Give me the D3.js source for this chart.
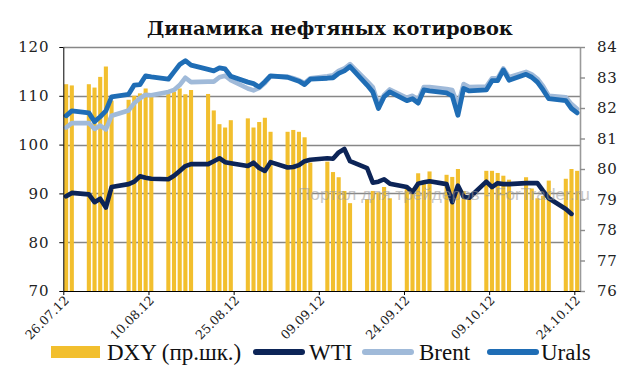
<!DOCTYPE html>
<html>
<head>
<meta charset="utf-8">
<script src="https://cdn.jsdelivr.net/npm/d3@7"></script>
<style>
  html, body { margin: 0; padding: 0; background: #fff; }
  svg { display: block; }
</style>
</head>
<body>
<div id="chart"></div>
<script>
// Trading days shown on the chart
var dates = [
  '26.07.12','27.07.12','30.07.12','31.07.12',
  '01.08.12','02.08.12','03.08.12','06.08.12','07.08.12','08.08.12','09.08.12','10.08.12',
  '13.08.12','14.08.12','15.08.12','16.08.12','17.08.12','20.08.12','21.08.12','22.08.12',
  '23.08.12','24.08.12','27.08.12','28.08.12','29.08.12','30.08.12','31.08.12',
  '03.09.12','04.09.12','05.09.12','06.09.12','07.09.12','10.09.12','11.09.12','12.09.12',
  '13.09.12','14.09.12','17.09.12','18.09.12','19.09.12','20.09.12','21.09.12','24.09.12',
  '25.09.12','26.09.12','27.09.12','28.09.12',
  '01.10.12','02.10.12','03.10.12','04.10.12','05.10.12','08.10.12','09.10.12','10.10.12',
  '11.10.12','12.10.12','15.10.12','16.10.12','17.10.12','18.10.12','19.10.12','22.10.12',
  '23.10.12','24.10.12'
];

// DXY, right axis
var dxy = [
  82.78, 82.74, 82.78, 82.67,
  83.02, 83.36, 82.24, 82.27, 82.40, 82.48, 82.64, 82.37,
  82.48, 82.53, 82.64, 82.45, 82.59, 82.46, 81.92, 81.47,
  81.36, 81.60, 81.66, 81.36, 81.54, 81.68, 81.22,
  81.22, 81.28, 81.22, 81.04, 80.21, 80.24, 79.90, 79.73,
  79.28, 78.88, 79.01, 79.28, 79.23, 79.41, 79.04, 79.44,
  79.36, 79.86, 79.57, 79.92,
  79.81, 79.74, 80.00, 79.28, 79.12, 79.94, 79.94, 79.87,
  79.78, 79.65, 79.73, 79.36, 79.04, 79.12, 79.62, 79.68,
  80.00, 79.94
];

// WTI, left axis (ends on 23.10)
var wti = [
  89.4, 90.1, 89.8, 88.2,
  88.9, 87.1, 91.3, 91.9, 92.4, 93.5, 93.2, 93.0,
  92.9, 93.6, 94.6, 95.6, 96.0, 96.0, 96.6, 97.2,
  96.4, 96.2, 95.6, 96.3, 95.2, 94.6, 96.4,
  95.3, 95.4, 95.8, 96.6, 96.9, 97.2, 97.1, 98.4,
  99.1, 96.6, 95.2, 92.2, 92.4, 92.9, 92.0, 91.3,
  90.3, 92.0, 92.3, 92.5,
  91.9, 88.2, 91.6, 89.3, 89.1, 92.4, 91.3, 92.1,
  91.9, 91.9, 92.1, 92.1, 92.1, 90.5, 89.0, 86.8,
  85.8
];

// Brent, left axis
var brent = [
  103.5, 104.4, 104.4, 103.2,
  103.9, 103.1, 105.9, 107.0, 108.5, 109.5, 110.2, 110.1,
  110.8, 111.2, 112.2, 113.7, 112.8, 112.9, 112.9, 113.8,
  114.1, 113.2, 111.5, 111.1, 111.6, 112.6, 114.0,
  113.9, 113.6, 113.2, 112.6, 113.6, 114.0, 114.2, 115.1,
  115.6, 116.5, 113.0, 111.8, 108.2, 110.2, 111.3, 109.6,
  110.0, 109.2, 111.8, 111.8,
  111.4, 111.2, 108.0, 112.4, 111.8, 111.9, 113.6, 113.6,
  115.6, 113.8, 114.9, 114.4, 113.5, 112.0, 110.0, 109.7,
  108.3, 107.3
];

// Urals, left axis
var urals = [
  105.9, 106.9, 106.5, 104.7,
  105.7, 106.9, 109.8, 110.3, 112.2, 112.3, 114.1, 113.9,
  113.4, 114.9, 116.4, 117.2, 116.3, 115.4, 115.1, 115.7,
  115.5, 114.0, 112.8, 112.5, 111.8, 112.9, 114.1,
  113.8, 113.4, 113.0, 112.3, 113.4, 113.6, 113.7, 114.6,
  115.1, 116.0, 112.2, 110.8, 107.4, 109.8, 110.8, 109.0,
  109.4, 108.5, 111.2, 111.0,
  110.6, 110.0, 106.0, 111.5, 111.0, 111.2, 113.1, 113.1,
  115.3, 113.2, 114.4, 113.8, 112.8, 111.2, 109.4, 109.0,
  107.4, 106.5
];

var leftTicks  = [70, 80, 90, 100, 110, 120];
var rightTicks = [76, 77, 78, 79, 80, 81, 82, 83, 84];
var xTickLabels = ['26.07.12', '10.08.12', '25.08.12', '09.09.12', '24.09.12', '09.10.12', '24.10.12'];

var title = 'Динамика нефтяных котировок';
var watermark = 'Портал для трейдеров - ForTrader.ru';
var legendNames = ['DXY (пр.шк.)', 'WTI', 'Brent', 'Urals'];

// ---- layout / styles ----
var W = 638, H = 368;
var plot = { left: 63.3, right: 580, top: 47, bottom: 291 };
var colors = { dxy: '#f2bf2e', wti: '#0c2457', brent: '#a0bad9', urals: '#1f6db5' };
var serif = '"DejaVu Serif", serif';
var legendSerif = '"Liberation Serif", "Times New Roman", serif';

var parse = d3.utcParse('%d.%m.%y');
var dayList = dates.map(parse);

var svg = d3.select('#chart').append('svg')
    .attr('width', W)
    .attr('height', H)
    .style('background', '#fff');

// date axis: each day owns a slot, domain runs to the day after the last date
var x = d3.scaleUtc()
    .domain([dayList[0], d3.utcDay.offset(dayList[dayList.length - 1], 1)])
    .range([plot.left, plot.right]);
var yL = d3.scaleLinear().domain([70, 120]).range([plot.bottom, plot.top]);
var yR = d3.scaleLinear().domain([76, 84]).range([plot.bottom, plot.top]);

var slot = x(d3.utcDay.offset(dayList[0], 1)) - x(dayList[0]);
var barW = slot * 0.72;
function cx(i) { return x(dayList[i]) + slot / 2; }

// fit a text element to a target width by scaling its font size
function fitWidth(t, w) {
    var fs = parseFloat(t.attr('font-size'));
    var cw = t.node().getComputedTextLength();
    if (cw > 0) t.attr('font-size', (fs * w / cw).toFixed(2));
}

// Title
var titleText = svg.append('text')
    .attr('x', 330).attr('y', 35)
    .attr('text-anchor', 'middle')
    .attr('font-family', serif)
    .attr('font-weight', 'bold')
    .attr('font-size', 20)
    .attr('fill', '#111')
    .text(title);
fitWidth(titleText, 366);

// Gridlines (left axis, behind bars)
svg.append('g').attr('class', 'grid')
    .selectAll('line')
    .data(leftTicks.filter(function (v) { return v > 70; }))
    .enter().append('line')
    .attr('x1', plot.left).attr('x2', plot.right)
    .attr('y1', function (v) { return Math.round(yL(v)) + 0.5; })
    .attr('y2', function (v) { return Math.round(yL(v)) + 0.5; })
    .attr('stroke', '#878787')
    .attr('stroke-width', 1.6);

// DXY bars (right axis)
svg.append('g').attr('class', 'bars')
    .selectAll('rect')
    .data(dxy)
    .enter().append('rect')
    .attr('x', function (v, i) { return x(dayList[i]) + (slot - barW) / 2; })
    .attr('y', function (v) { return yR(v); })
    .attr('width', barW)
    .attr('height', function (v) { return plot.bottom - yR(v); })
    .attr('fill', colors.dxy);

// Lines
var line = d3.line()
    .x(function (v, i) { return cx(i); })
    .y(function (v) { return yL(v); });

[['wti', wti, 4.6], ['brent', brent, 4.6], ['urals', urals, 4.8]].forEach(function (s) {
    svg.append('path')
        .datum(s[1])
        .attr('d', line)
        .attr('fill', 'none')
        .attr('stroke', colors[s[0]])
        .attr('stroke-width', s[2])
        .attr('stroke-linejoin', 'round')
        .attr('stroke-linecap', 'round');
});

// Axes
var leftAxis = svg.append('g')
    .attr('transform', 'translate(' + plot.left + ',0)')
    .call(d3.axisLeft(yL).tickValues(leftTicks).tickSize(4).tickSizeOuter(0).tickPadding(10));

var rightAxis = svg.append('g')
    .attr('transform', 'translate(' + plot.right + ',0)')
    .call(d3.axisRight(yR).tickValues(rightTicks).tickSize(5).tickSizeOuter(0).tickPadding(12));

var bottomAxis = svg.append('g')
    .attr('transform', 'translate(0,' + plot.bottom + ')')
    .call(d3.axisBottom(x)
        .tickValues(xTickLabels.map(parse))
        .tickFormat(d3.utcFormat('%d.%m.%y'))
        .tickSize(4).tickSizeOuter(0));

[leftAxis, rightAxis, bottomAxis].forEach(function (g) {
    g.selectAll('text')
        .attr('font-family', serif)
        .attr('fill', '#222');
});
leftAxis.select('.domain').attr('stroke', '#000');
leftAxis.selectAll('.tick line').attr('stroke', '#000');
leftAxis.selectAll('text').attr('font-size', 15).attr('letter-spacing', 0.8);

rightAxis.select('.domain').attr('stroke', '#9a9a9a').attr('stroke-width', 1.6);
rightAxis.selectAll('.tick line').attr('stroke', '#8c8c8c').attr('stroke-width', 1.4);
rightAxis.selectAll('text').attr('font-size', 15).attr('letter-spacing', 0.8);

bottomAxis.select('.domain').attr('stroke', '#000');
bottomAxis.selectAll('.tick line').attr('stroke', '#000');
bottomAxis.selectAll('text')
    .attr('font-size', 12.5)
    .attr('text-anchor', 'end')
    .attr('x', 0).attr('y', 0).attr('dy', 0)
    .attr('transform', 'translate(6,10) rotate(-45)');

// Watermark (kept clear of the right-axis labels)
var wm = svg.append('text')
    .attr('x', 298).attr('y', 200)
    .attr('font-family', '"Liberation Sans", Arial, sans-serif')
    .attr('font-size', 16)
    .attr('fill', '#9a9a9a')
    .attr('opacity', 0.55)
    .text(watermark);
fitWidth(wm, 292);

// Legend
var legendSwatchX = [51, 254, 363, 488];
var legendTextX   = [107, 309, 419, 541];
var legendKeys    = ['dxy', 'wti', 'brent', 'urals'];
var legendY = 352;

var legend = svg.append('g').attr('class', 'legend');
legendNames.forEach(function (name, i) {
    var key = legendKeys[i];
    if (key === 'dxy') {
        legend.append('rect')
            .attr('x', legendSwatchX[i]).attr('y', legendY - 6)
            .attr('width', 49).attr('height', 12)
            .attr('fill', colors.dxy);
    } else {
        legend.append('line')
            .attr('x1', legendSwatchX[i] + 2).attr('x2', legendSwatchX[i] + 48)
            .attr('y1', legendY).attr('y2', legendY)
            .attr('stroke', colors[key])
            .attr('stroke-width', 6)
            .attr('stroke-linecap', 'round');
    }
    legend.append('text')
        .attr('x', legendTextX[i]).attr('y', legendY + 8)
        .attr('font-family', legendSerif)
        .attr('font-size', 23)
        .attr('fill', '#111')
        .text(name);
});
</script>
</body>
</html>
